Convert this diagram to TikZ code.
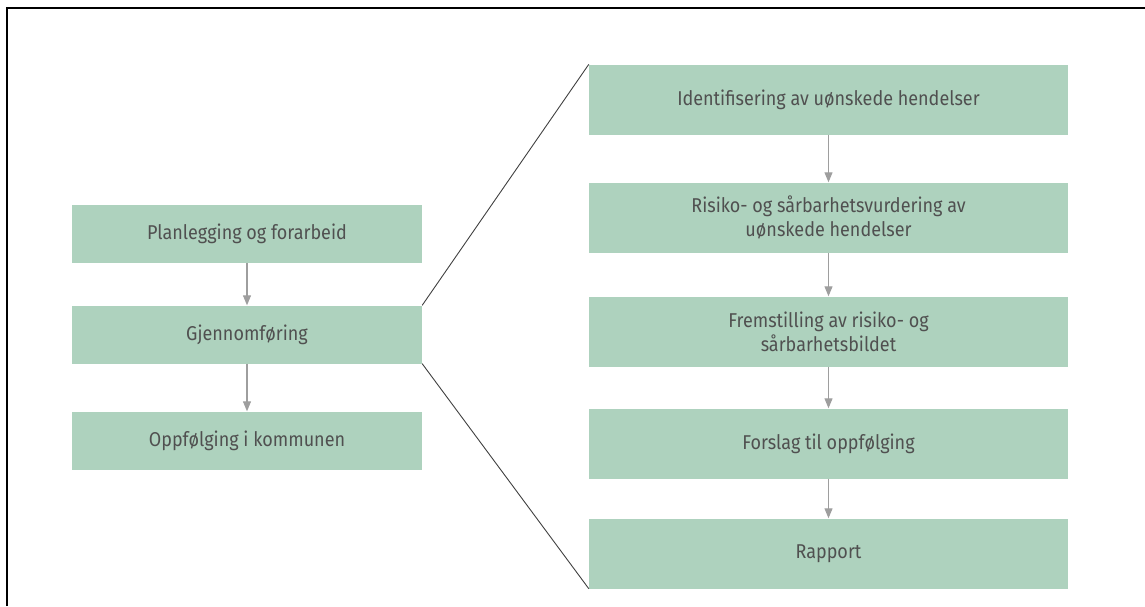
\documentclass[tikz,border=0pt]{standalone}
\usepackage{fontspec}
\setmainfont{Fira Sans}[FakeStretch=0.9]
\usepackage{tikz}
\usetikzlibrary{arrows.meta}
\definecolor{boxgreen}{RGB}{174,210,190}
\definecolor{boxtext}{RGB}{80,80,80}

\begin{document}
\begin{tikzpicture}[x=1pt,y=-1pt,
  every node/.style={fill=boxgreen,text=boxtext,inner sep=0pt,align=center,font=\fontsize{20}{24}\selectfont},
  phase/.style={minimum width=350pt,minimum height=58pt},
  stage/.style={minimum width=479pt,minimum height=70pt},
  flow/.style={draw=black!38,line width=1.1pt,-{Triangle[width=8pt,length=10pt]}},
  zoomline/.style={draw=black!75,line width=0.9pt}]
\useasboundingbox (0,0) rectangle (1145,606);
\draw [line width=2pt] (7,606) -- (7,8) -- (1145,8);
\node [phase] (plan) at (247,234) {Planlegging og forarbeid};
\node [phase] (gjen) at (247,334.5) {Gjennomføring};
\node [phase] (oppf) at (247,440.5) {Oppfølging i kommunen};
\node [stage] (ident) at (828.5,99.5) {Identifisering av uønskede hendelser};
\node [stage] (risiko) at (828.5,217.5) {Risiko- og sårbarhetsvurdering av\\uønskede hendelser};
\node [stage] (fremst) at (828.5,331.5) {Fremstilling av risiko- og\\sårbarhetsbildet};
\node [stage] (forslag) at (828.5,443.5) {Forslag til oppfølging};
\node [stage] (rapport) at (828.5,553.5) {Rapport};
\draw [flow] (plan) to (gjen);
\draw [flow] (gjen) to (oppf);
\draw [flow] (ident) to (risiko);
\draw [flow] (risiko) to (fremst);
\draw [flow] (fremst) to (forslag);
\draw [flow] (forslag) to (rapport);
\draw [zoomline] (gjen.north east) to (ident.north west);
\draw [zoomline] (gjen.south east) to (rapport.south west);
\end{tikzpicture}
\end{document}
